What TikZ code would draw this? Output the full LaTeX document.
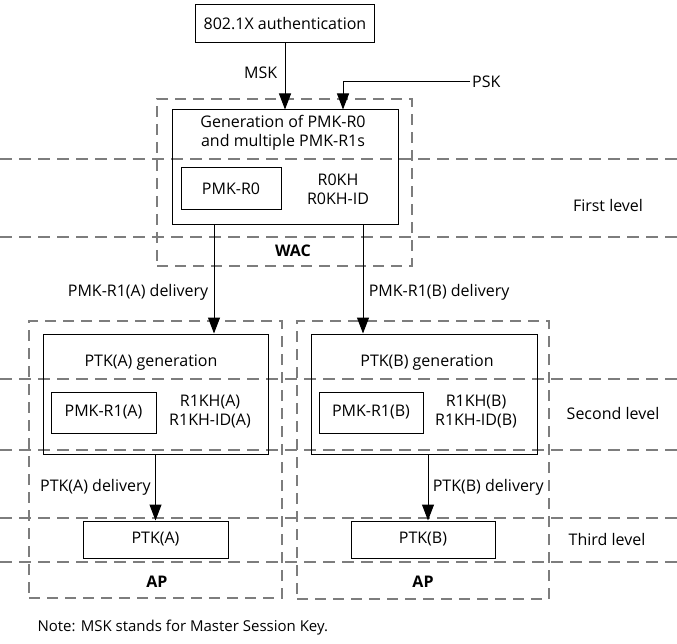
\documentclass[tikz,border=0pt]{standalone}
\usepackage{fontspec}
\setmainfont{Open Sans}
\definecolor{dashgray}{RGB}{125, 125, 125}
\usepackage{tikz}
\usetikzlibrary{
  arrows.meta,
  positioning
}

\begin{document}
\begin{tikzpicture}[x=1pt, y=-1pt,
  every node/.style={font=\fontsize{16}{19}\selectfont, align=center},
  box/.style={draw, line width=1pt, inner sep=0pt},
  zone/.style={draw=dashgray, line width=1.4pt, dash pattern=on 11pt off 7pt,
               inner sep=0pt},
  level/.style={draw=dashgray, line width=1.6pt, dash pattern=on 12pt off 7pt},
  arr/.style={-{Triangle[length=16pt, width=12pt]}, line width=1pt},
  bold/.style={font=\fontsize{16}{19}\selectfont\bfseries}
]
\useasboundingbox (0,0) rectangle (677,644);
\foreach \ly in {159, 237, 379, 450, 518, 562}
  \draw[level] (0,\ly) -- (677,\ly);
\node[zone, minimum width=255pt, minimum height=167pt] (wac) at (284.5,182.5) {};
\node[zone, minimum width=253pt, minimum height=277pt] (apA) at (155.5,459.5) {};
\node[zone, minimum width=252pt, minimum height=278pt] (apB) at (423,460) {};
\node[box, minimum width=179pt, minimum height=38pt] (auth) at (285,24) {802.1X authentication};
\node[box, minimum width=226pt, minimum height=115pt] (gen) at (285,167.5) {};
\node (gentxt) at (283,133) {Generation of PMK-R0\\and multiple PMK-R1s};
\node[box, minimum width=100pt, minimum height=42pt] (pmk0) at (231,189) {PMK-R0};
\node (r0kh) at (338,189) {R0KH\\R0KH-ID};
\node[bold] (waclbl) at (293,251) {WAC};
\node[box, minimum width=225pt, minimum height=120pt] (genA) at (155.5,394) {};
\node (genAtxt) at (151,363) {PTK(A) generation};
\node[box, minimum width=105pt, minimum height=41pt] (pmkA) at (103.5,412.5) {PMK-R1(A)};
\node (r1khA) at (210,412) {R1KH(A)\\R1KH-ID(A)};
\node[box, minimum width=145pt, minimum height=37pt] (ptkA) at (155.5,539.5) {PTK(A)};
\node[bold] (apAlbl) at (157,582) {AP};
\node[box, minimum width=226pt, minimum height=120pt] (genB) at (424,394) {};
\node (genBtxt) at (427,363) {PTK(B) generation};
\node[box, minimum width=104pt, minimum height=41pt] (pmkB) at (371,412.5) {PMK-R1(B)};
\node (r1khB) at (476,412) {R1KH(B)\\R1KH-ID(B)};
\node[box, minimum width=144pt, minimum height=37pt] (ptkB) at (423,539.5) {PTK(B)};
\node[bold] (apBlbl) at (423,582) {AP};
\coordinate (psk) at (470,82);
\node[anchor=west, inner sep=2pt] (psklbl) at (psk) {PSK};
\draw[arr] (auth) -- (gen) node[pos=0.45, left=4pt] (msk) {MSK};
\draw[arr] (psk) -| ([xshift=58pt]gen.north);
\draw[arr] ([xshift=-71pt]gen.south) -- ([xshift=-71pt]gen.south |- genA.north)
  node[pos=0.62, left=2pt] (dlvA) {PMK-R1(A) delivery};
\draw[arr] ([xshift=78pt]gen.south) -- ([xshift=78pt]gen.south |- genB.north)
  node[pos=0.62, right=2pt] (dlvB) {PMK-R1(B) delivery};
\draw[arr] (genA.south) -- (ptkA.north) node[midway, left=1pt] (ptkdlvA) {PTK(A) delivery};
\draw[arr] ([xshift=4pt]genB.south) -- ([xshift=4pt]genB.south |- ptkB.north)
  node[midway, right=1pt] (ptkdlvB) {PTK(B) delivery};
\node (lvl1) at (608,206) {First level};
\node (lvl2) at (613,413) {Second level};
\node (lvl3) at (607,539) {Third level};
\node[anchor=west, font=\fontsize{15}{18}\selectfont] (note) at (34,628)
  {Note: MSK stands for Master Session Key.};
\end{tikzpicture}
\end{document}
